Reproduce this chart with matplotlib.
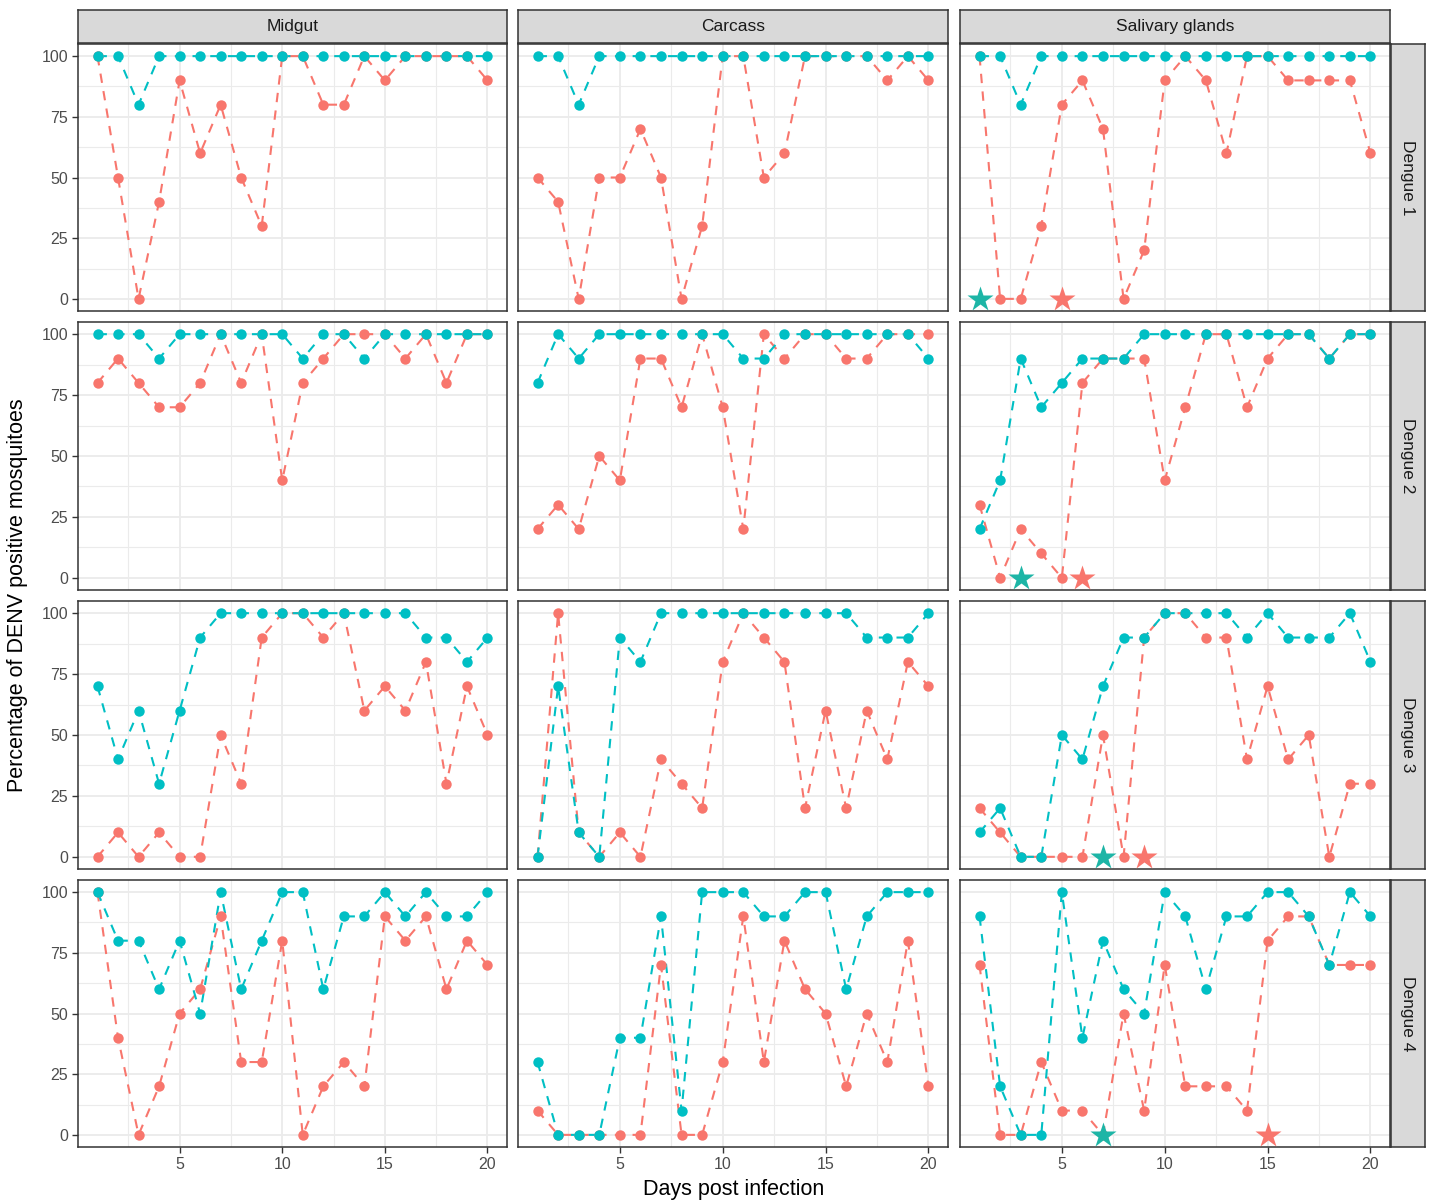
import matplotlib
matplotlib.use("Agg")
import matplotlib.pyplot as plt
import numpy as np

plt.rcParams['font.family'] = ['Liberation Sans', 'DejaVu Sans']

# days post infection
days = list(range(1, 21))

# red series (a) and teal series (b), one list per tissue x serotype
mg_d1_a = [100, 50, 0, 40, 90, 60, 80, 50, 30, 100, 100, 80, 80, 100, 90, 100, 100, 100, 100, 90]
mg_d1_b = [100, 100, 80, 100, 100, 100, 100, 100, 100, 100, 100, 100, 100, 100, 100, 100, 100, 100, 100, 100]
ca_d1_a = [50, 40, 0, 50, 50, 70, 50, 0, 30, 100, 100, 50, 60, 100, 100, 100, 100, 90, 100, 90]
ca_d1_b = [100, 100, 80, 100, 100, 100, 100, 100, 100, 100, 100, 100, 100, 100, 100, 100, 100, 100, 100, 100]
sg_d1_a = [100, 0, 0, 30, 80, 90, 70, 0, 20, 90, 100, 90, 60, 100, 100, 90, 90, 90, 90, 60]
sg_d1_b = [100, 100, 80, 100, 100, 100, 100, 100, 100, 100, 100, 100, 100, 100, 100, 100, 100, 100, 100, 100]

mg_d2_a = [80, 90, 80, 70, 70, 80, 100, 80, 100, 40, 80, 90, 100, 100, 100, 90, 100, 80, 100, 100]
mg_d2_b = [100, 100, 100, 90, 100, 100, 100, 100, 100, 100, 90, 100, 100, 90, 100, 100, 100, 100, 100, 100]
ca_d2_a = [20, 30, 20, 50, 40, 90, 90, 70, 100, 70, 20, 100, 90, 100, 100, 90, 90, 100, 100, 100]
ca_d2_b = [80, 100, 90, 100, 100, 100, 100, 100, 100, 100, 90, 90, 100, 100, 100, 100, 100, 100, 100, 90]
sg_d2_a = [30, 0, 20, 10, 0, 80, 90, 90, 90, 40, 70, 100, 100, 70, 90, 100, 100, 90, 100, 100]
sg_d2_b = [20, 40, 90, 70, 80, 90, 90, 90, 100, 100, 100, 100, 100, 100, 100, 100, 100, 90, 100, 100]

mg_d3_a = [0, 10, 0, 10, 0, 0, 50, 30, 90, 100, 100, 90, 100, 60, 70, 60, 80, 30, 70, 50]
mg_d3_b = [70, 40, 60, 30, 60, 90, 100, 100, 100, 100, 100, 100, 100, 100, 100, 100, 90, 90, 80, 90]
ca_d3_a = [0, 100, 10, 0, 10, 0, 40, 30, 20, 80, 100, 90, 80, 20, 60, 20, 60, 40, 80, 70]
ca_d3_b = [0, 70, 10, 0, 90, 80, 100, 100, 100, 100, 100, 100, 100, 100, 100, 100, 90, 90, 90, 100]
sg_d3_a = [20, 10, 0, 0, 0, 0, 50, 0, 90, 100, 100, 90, 90, 40, 70, 40, 50, 0, 30, 30]
sg_d3_b = [10, 20, 0, 0, 50, 40, 70, 90, 90, 100, 100, 100, 100, 90, 100, 90, 90, 90, 100, 80]

mg_d4_a = [100, 40, 0, 20, 50, 60, 90, 30, 30, 80, 0, 20, 30, 20, 90, 80, 90, 60, 80, 70]
mg_d4_b = [100, 80, 80, 60, 80, 50, 100, 60, 80, 100, 100, 60, 90, 90, 100, 90, 100, 90, 90, 100]
ca_d4_a = [10, 0, 0, 0, 0, 0, 70, 0, 0, 30, 90, 30, 80, 60, 50, 20, 50, 30, 80, 20]
ca_d4_b = [30, 0, 0, 0, 40, 40, 90, 10, 100, 100, 100, 90, 90, 100, 100, 60, 90, 100, 100, 100]
sg_d4_a = [70, 0, 0, 30, 10, 10, 0, 50, 10, 70, 20, 20, 20, 10, 80, 90, 90, 70, 70, 70]
sg_d4_b = [90, 20, 0, 0, 100, 40, 80, 60, 50, 100, 90, 60, 90, 90, 100, 100, 90, 70, 100, 90]

# star markers in the salivary glands column (day, per serotype)
star_a_days = [5, 6, 9, 15]
star_b_days = [1, 3, 7, 7]

tissues = ["Midgut", "Carcass", "Salivary glands"]
serotypes = ["Dengue 1", "Dengue 2", "Dengue 3", "Dengue 4"]

grid_a = [[mg_d1_a, ca_d1_a, sg_d1_a], [mg_d2_a, ca_d2_a, sg_d2_a],
          [mg_d3_a, ca_d3_a, sg_d3_a], [mg_d4_a, ca_d4_a, sg_d4_a]]
grid_b = [[mg_d1_b, ca_d1_b, sg_d1_b], [mg_d2_b, ca_d2_b, sg_d2_b],
          [mg_d3_b, ca_d3_b, sg_d3_b], [mg_d4_b, ca_d4_b, sg_d4_b]]

RED = "#F8766D"
TEAL = "#00BFC4"
STAR_TEAL = "#1DB5A6"
BORDER = "#333333"

W, H = 1429, 1201
fig = plt.figure(figsize=(W / 100, H / 100), dpi=100)


def rect(x0, y0, x1, y1):
    return [x0 / W, 1 - y1 / H, (x1 - x0) / W, (y1 - y0) / H]


cols_x = [(78, 507), (518, 948), (960, 1390)]
rows_y = [(44, 311), (322, 590), (601, 869), (880, 1147)]

for r, (y0, y1) in enumerate(rows_y):
    for c, (x0, x1) in enumerate(cols_x):
        ax = fig.add_axes(rect(x0, y0, x1, y1))
        ax.set_xlim(0.05, 20.95)
        ax.set_ylim(-5, 105)
        ax.set_xticks([5, 10, 15, 20])
        ax.set_yticks([0, 25, 50, 75, 100])
        ax.set_xticks([2.5, 7.5, 12.5, 17.5], minor=True)
        ax.set_yticks([12.5, 37.5, 62.5, 87.5], minor=True)
        ax.grid(True, which="major", color="#EBEBEB", lw=1.3)
        ax.grid(True, which="minor", color="#EBEBEB", lw=0.8)
        ax.set_axisbelow(True)
        for s in ax.spines.values():
            s.set_color(BORDER)
            s.set_linewidth(1.1)
        ax.tick_params(which="minor", length=0)
        ax.tick_params(which="major", color=BORDER, length=4, width=1.0,
                       labelsize=11.5, labelcolor="#4D4D4D", pad=3)
        if r < 3:
            ax.tick_params(axis="x", length=0, labelbottom=False)
        if c > 0:
            ax.tick_params(axis="y", length=0, labelleft=False)

        a = grid_a[r][c]
        b = grid_b[r][c]
        ax.plot(days, a, color=RED, lw=1.5, ls=(0, (4.5, 4)), zorder=2)
        ax.plot(days, b, color=TEAL, lw=1.5, ls=(0, (4.5, 4)), zorder=2)
        ax.plot(days, a, "o", color=RED, ms=7.5, mec="none", zorder=3)
        ax.plot(days, b, "o", color=TEAL, ms=7.5, mec="none", zorder=3)

        if c == 2:
            ax.plot([star_b_days[r]], [0], "*", color=STAR_TEAL, ms=19, mec="none", zorder=4)
            ax.plot([star_a_days[r]], [0], "*", color=RED, ms=19, mec="none", zorder=4)

        if r == 0:
            sax = fig.add_axes(rect(x0, 10, x1, 43))
            sax.set_facecolor("#D9D9D9")
            sax.set_xticks([])
            sax.set_yticks([])
            for s in sax.spines.values():
                s.set_color(BORDER)
                s.set_linewidth(1.1)
            sax.text(0.5, 0.5, tissues[c], ha="center", va="center",
                     fontsize=12.5, color="#1A1A1A", transform=sax.transAxes)

    sax = fig.add_axes(rect(1391, y0, 1425, y1))
    sax.set_facecolor("#D9D9D9")
    sax.set_xticks([])
    sax.set_yticks([])
    for s in sax.spines.values():
        s.set_color(BORDER)
        s.set_linewidth(1.1)
    sax.text(0.5, 0.5, serotypes[r], ha="center", va="center", rotation=270,
             fontsize=12.5, color="#1A1A1A", transform=sax.transAxes)

fig.text(18 / W, 1 - 595 / H, "Percentage of DENV positive mosquitoes",
         rotation=90, ha="center", va="center", fontsize=15.5)
fig.text(734 / W, 1 - 1189 / H, "Days post infection",
         ha="center", va="center", fontsize=15.5)

fig.savefig("out.png", dpi=100)
